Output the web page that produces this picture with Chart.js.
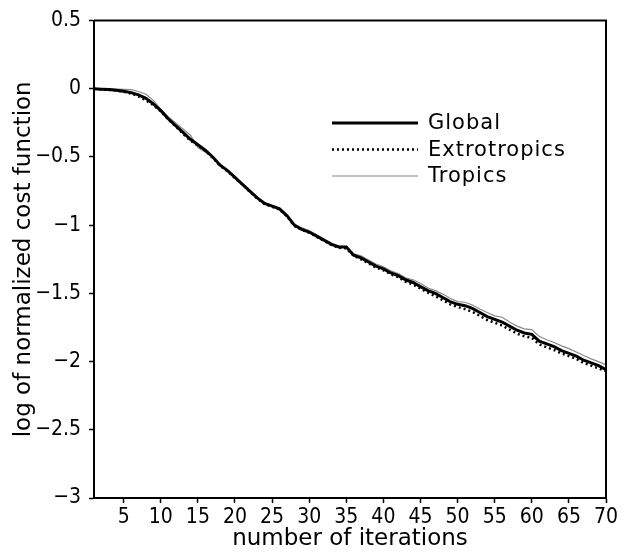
<!DOCTYPE html>
<html>
<head>
<meta charset="utf-8">
<script src="https://cdn.jsdelivr.net/npm/chart.js@4.4.0/dist/chart.umd.min.js"></script>
<style>
  body { margin: 0; background: #fff; }
</style>
</head>
<body>
<canvas id="costChart" width="624" height="552"></canvas>
<script>
// values
const iterations = [
  1, 2, 3, 4, 5, 6, 7, 8, 9, 10, 11, 12, 13, 14, 15, 16, 17, 18, 19, 20,
  21, 22, 23, 24, 25, 26, 27, 28, 29, 30, 31, 32, 33, 34, 35, 36, 37, 38, 39, 40,
  41, 42, 43, 44, 45, 46, 47, 48, 49, 50, 51, 52, 53, 54, 55, 56, 57, 58, 59, 60,
  61, 62, 63, 64, 65, 66, 67, 68, 69, 70
];
const globalCost = [
  0, -0.003, -0.006, -0.01, -0.018, -0.028, -0.045, -0.07, -0.11, -0.16,
  -0.22, -0.27, -0.32, -0.37, -0.41, -0.45, -0.50, -0.56, -0.60, -0.65,
  -0.70, -0.75, -0.80, -0.84, -0.86, -0.88, -0.93, -1.00, -1.03, -1.05,
  -1.08, -1.11, -1.14, -1.16, -1.16, -1.22, -1.24, -1.27, -1.30, -1.32,
  -1.35, -1.37, -1.40, -1.42, -1.45, -1.48, -1.50, -1.53, -1.56, -1.58,
  -1.59, -1.61, -1.64, -1.67, -1.69, -1.71, -1.74, -1.77, -1.79, -1.80,
  -1.85, -1.87, -1.89, -1.92, -1.94, -1.96, -1.99, -2.01, -2.03, -2.06
];
const extraCost = [
  0, -0.004, -0.008, -0.013, -0.022, -0.035, -0.055, -0.085, -0.12, -0.165,
  -0.225, -0.275, -0.33, -0.38, -0.415, -0.455, -0.505, -0.565, -0.605, -0.655,
  -0.70, -0.755, -0.805, -0.845, -0.865, -0.885, -0.935, -1.005, -1.035, -1.055,
  -1.085, -1.115, -1.145, -1.165, -1.17, -1.225, -1.25, -1.28, -1.31, -1.33,
  -1.36, -1.38, -1.415, -1.435, -1.465, -1.495, -1.52, -1.55, -1.58, -1.60,
  -1.615, -1.635, -1.665, -1.695, -1.715, -1.735, -1.765, -1.795, -1.815, -1.825,
  -1.875, -1.895, -1.915, -1.94, -1.96, -1.98, -2.01, -2.03, -2.05, -2.07
];
const tropicsCost = [
  0, 0, 0, -0.002, -0.004, -0.006, -0.02, -0.04, -0.085, -0.15,
  -0.205, -0.25, -0.295, -0.34, -0.43, -0.465, -0.50, -0.555, -0.60, -0.645,
  -0.695, -0.745, -0.795, -0.835, -0.855, -0.875, -0.92, -0.99, -1.02, -1.04,
  -1.07, -1.10, -1.13, -1.155, -1.155, -1.21, -1.225, -1.255, -1.285, -1.305,
  -1.335, -1.355, -1.385, -1.40, -1.425, -1.46, -1.48, -1.505, -1.535, -1.56,
  -1.565, -1.585, -1.615, -1.64, -1.665, -1.675, -1.71, -1.74, -1.76, -1.765,
  -1.815, -1.84, -1.86, -1.885, -1.905, -1.93, -1.955, -1.98, -2.0, -2.025
];
const xTicks = [5, 10, 15, 20, 25, 30, 35, 40, 45, 50, 55, 60, 65, 70];
const yTicks = [0.5, 0, -0.5, -1, -1.5, -2, -2.5, -3];

const tickFont = { family: "'Liberation Sans Narrow', 'DejaVu Sans Condensed', Arial, sans-serif", size: 21 };
const titleFont = { family: "'DejaVu Sans', sans-serif", size: 23, lineHeight: 1 };

function minusSign(v) {
  return String(v).replace("-", "\u2212");
}

// box round the plot, top and right sides
const frame = {
  id: "frame",
  afterDraw(chart) {
    const { ctx, chartArea: a } = chart;
    ctx.save();
    ctx.strokeStyle = "#000";
    ctx.lineWidth = 2;
    ctx.beginPath();
    ctx.moveTo(a.left, a.top);
    ctx.lineTo(a.right, a.top);
    ctx.lineTo(a.right, a.bottom);
    ctx.stroke();
    ctx.restore();
  },
};

// legend drawn inside the plot like the original
const insideLegend = {
  id: "insideLegend",
  afterDatasetsDraw(chart) {
    const ctx = chart.ctx;
    ctx.save();
    ctx.font = "21px 'DejaVu Sans', sans-serif";
    ctx.letterSpacing = "1px";
    ctx.textBaseline = "middle";
    ctx.fillStyle = "#000";
    chart.data.datasets.forEach((ds, i) => {
      const y = 123 + i * 26.5;
      ctx.strokeStyle = ds.borderColor;
      ctx.lineWidth = ds.borderWidth;
      ctx.setLineDash(ds.borderDash || []);
      ctx.beginPath();
      ctx.moveTo(332, y);
      ctx.lineTo(418, y);
      ctx.stroke();
      ctx.fillText(ds.label, 428, y + 1);
    });
    ctx.restore();
  },
};

new Chart(document.getElementById("costChart"), {
  type: "line",
  data: {
    labels: iterations,
    datasets: [
      {
        label: "Global",
        data: globalCost,
        borderColor: "#000",
        borderWidth: 3,
        pointRadius: 0,
      },
      {
        label: "Extrotropics",
        data: extraCost,
        borderColor: "#000",
        borderWidth: 2.5,
        borderDash: [2, 3],
        pointRadius: 0,
      },
      {
        label: "Tropics",
        data: tropicsCost,
        borderColor: "#8a8a8a",
        borderWidth: 1.2,
        pointRadius: 0,
      },
    ],
  },
  options: {
    responsive: false,
    animation: false,
    layout: { padding: { top: 15, right: 18, left: 0, bottom: 0 } },
    plugins: {
      legend: { display: false },
      tooltip: { enabled: false },
    },
    scales: {
      x: {
        type: "linear",
        min: 1,
        max: 70,
        afterBuildTicks: (axis) => {
          axis.ticks = xTicks.map((v) => ({ value: v }));
        },
        afterFit: (axis) => {
          axis.height = 54;
        },
        grid: { display: true, drawOnChartArea: false, drawTicks: true, tickLength: 5, color: "#000", tickWidth: 1.5 },
        border: { display: true, color: "#000", width: 2 },
        ticks: { color: "#000", font: tickFont, padding: 2, maxRotation: 0, autoSkip: false },
        title: {
          display: true,
          text: "number of iterations",
          color: "#000",
          font: titleFont,
          padding: { top: 0, bottom: 1 },
        },
      },
      y: {
        min: -3,
        max: 0.5,
        afterBuildTicks: (axis) => {
          axis.ticks = yTicks.map((v) => ({ value: v }));
        },
        afterFit: (axis) => {
          axis.width = 94;
        },
        grid: { display: true, drawOnChartArea: false, drawTicks: true, tickLength: 5, color: "#000", tickWidth: 1.5 },
        border: { display: true, color: "#000", width: 2 },
        ticks: { color: "#000", font: tickFont, padding: 8, callback: (v) => minusSign(v) },
        title: {
          display: true,
          text: "log of normalized cost function",
          color: "#000",
          font: titleFont,
          padding: { top: 13, bottom: 0 },
        },
      },
    },
  },
  plugins: [frame, insideLegend],
});
</script>
</body>
</html>
